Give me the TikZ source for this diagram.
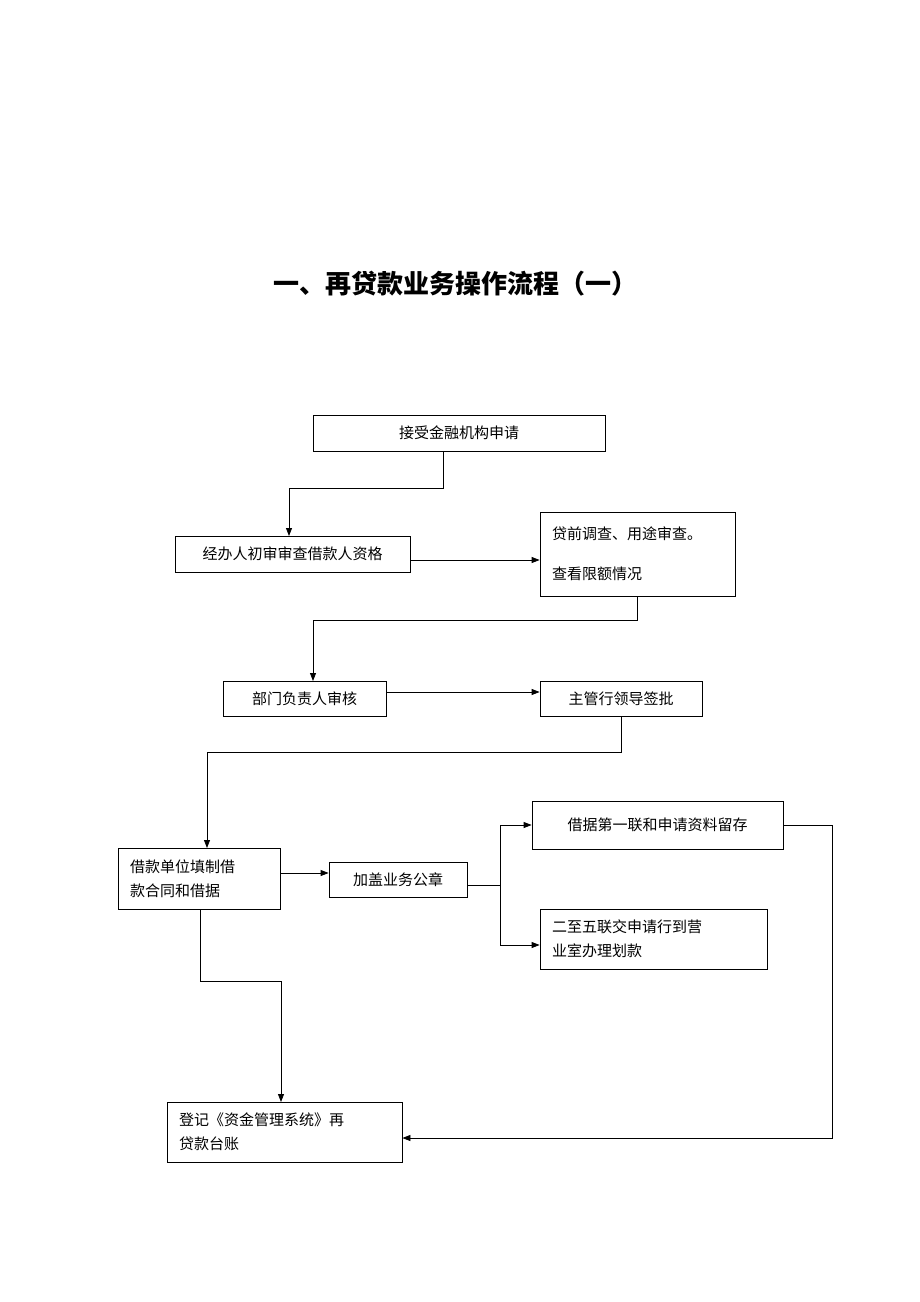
\documentclass[tikz,border=0pt]{standalone}
\usepackage{fontspec}
\setmainfont{Noto Sans CJK SC}
\usetikzlibrary{calc,arrows.meta}
\begin{document}
\begin{tikzpicture}[x=1pt,y=-1pt,
  box/.style={draw, thick, inner sep=0pt, font=\fontsize{15}{24}\selectfont},
  tbox/.style={box, align=left, inner xsep=12pt, text width=#1},
  arr/.style={draw, thick, -{Triangle[length=8pt,width=6pt]}}]
\useasboundingbox (0,0) rectangle (920,1302);
\node[font=\fontsize{26}{30}\selectfont\bfseries] (title) at (455,284) {一、再贷款业务操作流程（一）};

\node[box, minimum width=292pt, minimum height=36pt] (1) at (459,433) {接受金融机构申请};
\node[box, minimum width=235pt, minimum height=36pt] (2) at (292.5,554) {经办人初审审查借款人资格};
\node[tbox=171pt, minimum height=84pt, font=\fontsize{15}{40}\selectfont] (3) at (637.5,554) {贷前调查、用途审查。\\查看限额情况};
\node[box, minimum width=163pt, minimum height=35pt] (4) at (304.5,698.5) {部门负责人审核};
\node[box, minimum width=162pt, minimum height=35pt] (5) at (621,698.5) {主管行领导签批};
\node[tbox=138pt, minimum height=61pt] (6) at (199,878.5) {借款单位填制借\\款合同和借据};
\node[box, minimum width=138pt, minimum height=35pt] (7) at (398,879.5) {加盖业务公章};
\node[box, minimum width=251pt, minimum height=48pt] (8) at (657.5,825) {借据第一联和申请资料留存};
\node[tbox=203pt, minimum height=60pt] (9) at (653.5,939) {二至五联交申请行到营\\业室办理划款};
\node[tbox=211pt, minimum height=60pt] (10) at (284.5,1132) {登记《资金管理系统》再\\贷款台账};

\path[arr] (443,451) |- (289,488) -- (289,536);
\path[arr] (410,560) -- (3.west |- 0,560);
\path[arr] (3.south) |- (313,620) -- (313,681);
\path[arr] (4.east |- 0,692) -- (5.west |- 0,692);
\path[arr] (5.south) |- (207,752) -- (207,848);
\path[arr] (6.east |- 0,873) -- (7.west |- 0,873);
\path[draw, thick] (467,885) -- (500,885);
\path[arr] (500,885) |- (8.west);
\path[arr] (500,885) |- (9.west |- 0,945);
\path[arr] (8.east) -| (832,1138) -- (10.east |- 0,1138);
\path[arr] (200,909) |- (281,981) -- (281,1102);
\end{tikzpicture}
\end{document}
